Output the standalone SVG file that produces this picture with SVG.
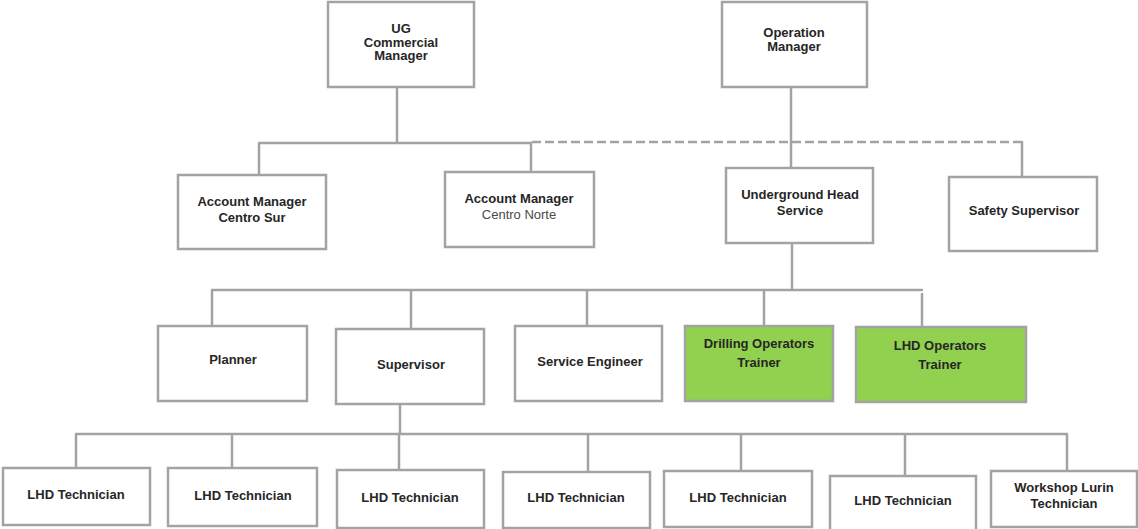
<svg xmlns="http://www.w3.org/2000/svg" width="1138" height="529" viewBox="0 0 1138 529">
<style>
.box{fill:#ffffff;stroke:#a3a3a3;stroke-width:2.5}
.green{fill:#92d050;stroke:#a3a3a3;stroke-width:2.5}
.ln{stroke:#a3a3a3;stroke-width:2.5;fill:none}
.dash{stroke:#a3a3a3;stroke-width:2.5;fill:none;stroke-dasharray:9 4}
text{font-family:"Liberation Sans",Arial,sans-serif;font-size:13px;font-weight:bold;fill:#262626;text-anchor:middle}
.reg{font-weight:normal;fill:#4a4a4a}
</style>
<rect width="1138" height="529" fill="#ffffff"/>
<g id="connectors">
<line class="ln" x1="397" y1="87" x2="397" y2="143"/>
<line class="ln" x1="258" y1="143" x2="532" y2="143"/>
<line class="ln" x1="259" y1="143" x2="259" y2="175"/>
<line class="ln" x1="531" y1="143" x2="531" y2="172"/>
<line class="dash" x1="532" y1="142" x2="1022" y2="142"/>
<line class="ln" x1="1022" y1="141" x2="1022" y2="177"/>
<line class="ln" x1="791" y1="87" x2="791" y2="168"/>
<line class="ln" x1="792" y1="243" x2="792" y2="290"/>
<line class="ln" x1="211" y1="290" x2="923" y2="290"/>
<line class="ln" x1="212" y1="290" x2="212" y2="326"/>
<line class="ln" x1="411" y1="290" x2="411" y2="329"/>
<line class="ln" x1="587" y1="290" x2="587" y2="326"/>
<line class="ln" x1="764" y1="290" x2="764" y2="326"/>
<line class="ln" x1="922" y1="293" x2="922" y2="327"/>
<line class="ln" x1="400" y1="404" x2="400" y2="434"/>
<line class="ln" x1="75" y1="434" x2="1068" y2="434"/>
<line class="ln" x1="76" y1="434" x2="76" y2="468"/>
<line class="ln" x1="232" y1="434" x2="232" y2="468"/>
<line class="ln" x1="399" y1="434" x2="399" y2="470"/>
<line class="ln" x1="588" y1="434" x2="588" y2="472"/>
<line class="ln" x1="741" y1="434" x2="741" y2="471"/>
<line class="ln" x1="905" y1="434" x2="905" y2="476"/>
<line class="ln" x1="1067" y1="434" x2="1067" y2="471"/>
</g>
<g id="ug-commercial-manager">
<rect class="box" x="328" y="2" width="146" height="85"/>
<text x="401" y="33">UG</text>
<text x="401" y="47">Commercial</text>
<text x="401" y="60">Manager</text>
</g>
<g id="operation-manager">
<rect class="box" x="722" y="2" width="145" height="85"/>
<text x="794" y="37">Operation</text>
<text x="794" y="51">Manager</text>
</g>
<g id="account-manager-sur">
<rect class="box" x="178" y="175" width="148" height="74"/>
<text x="252" y="206">Account Manager</text>
<text x="252" y="222">Centro  Sur</text>
</g>
<g id="account-manager-norte">
<rect class="box" x="445" y="172" width="149" height="75"/>
<text x="519" y="203">Account Manager</text>
<text class="reg" x="519" y="219">Centro Norte</text>
</g>
<g id="underground-head-service">
<rect class="box" x="726" y="168" width="147" height="75"/>
<text x="800" y="199">Underground Head</text>
<text x="800" y="215">Service</text>
</g>
<g id="safety-supervisor">
<rect class="box" x="949" y="177" width="148" height="74"/>
<text x="1024" y="215">Safety  Supervisor</text>
</g>
<g id="planner">
<rect class="box" x="158" y="326" width="149" height="75"/>
<text x="233" y="364">Planner</text>
</g>
<g id="supervisor">
<rect class="box" x="336" y="329" width="148" height="75"/>
<text x="411" y="369">Supervisor</text>
</g>
<g id="service-engineer">
<rect class="box" x="515" y="326" width="147" height="75"/>
<text x="590" y="366">Service Engineer</text>
</g>
<g id="drilling-operators-trainer">
<rect class="green" x="685" y="326" width="148" height="75"/>
<text x="759" y="348">Drilling Operators</text>
<text x="759" y="367">Trainer</text>
</g>
<g id="lhd-operators-trainer">
<rect class="green" x="856" y="327" width="170" height="75"/>
<text x="940" y="350">LHD Operators</text>
<text x="940" y="369">Trainer</text>
</g>
<g id="lhd-technician-1">
<rect class="box" x="3" y="468" width="147" height="57"/>
<text x="76" y="499">LHD Technician</text>
</g>
<g id="lhd-technician-2">
<rect class="box" x="168" y="468" width="149" height="58"/>
<text x="243" y="500">LHD Technician</text>
</g>
<g id="lhd-technician-3">
<rect class="box" x="337" y="470" width="147" height="58"/>
<text x="410" y="502">LHD Technician</text>
</g>
<g id="lhd-technician-4">
<rect class="box" x="503" y="472" width="147" height="56"/>
<text x="576" y="502">LHD Technician</text>
</g>
<g id="lhd-technician-5">
<rect class="box" x="664" y="471" width="148" height="56"/>
<text x="738" y="502">LHD Technician</text>
</g>
<g id="lhd-technician-6">
<rect class="box" x="830" y="476" width="146" height="56"/>
<text x="903" y="505">LHD Technician</text>
</g>
<g id="workshop-lurin-technician">
<rect class="box" x="991" y="471" width="146" height="56"/>
<text x="1064" y="492">Workshop Lurin</text>
<text x="1064" y="508">Technician</text>
</g>
</svg>
